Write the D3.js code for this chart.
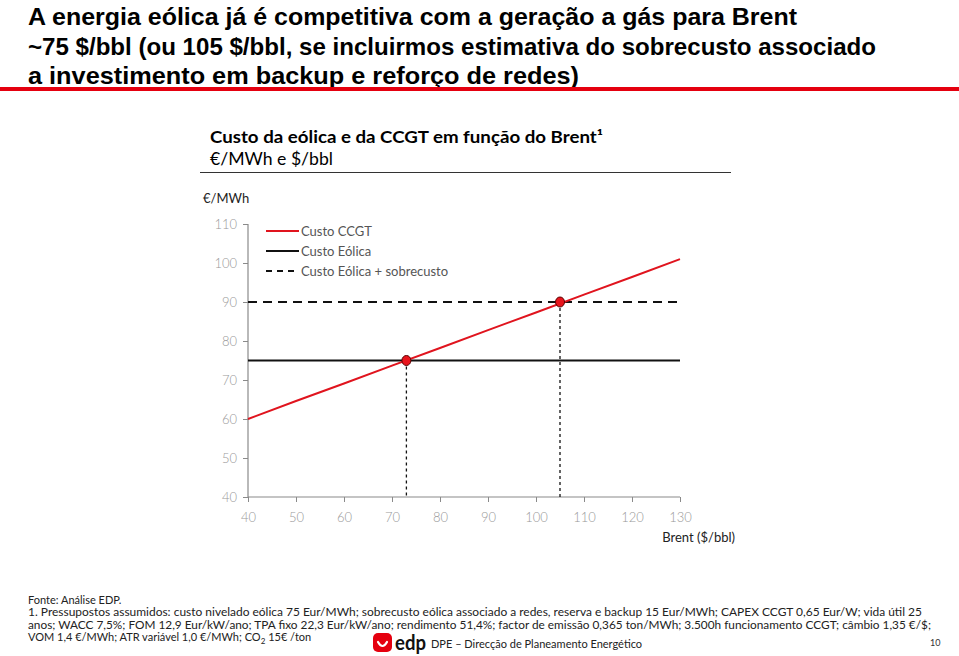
<!DOCTYPE html>
<html><head><meta charset="utf-8">
<script src="https://cdn.jsdelivr.net/npm/d3@7"></script>
<style>
body{margin:0;background:#fff;}
svg{display:block;font-family:"Liberation Sans",Arial,sans-serif;}
</style></head>
<body><svg id="c" width="959" height="656"></svg>
<script>
const brentTicks = [40,50,60,70,80,90,100,110,120,130];
const costTicks = [40,50,60,70,80,90,100,110];
const ccgtBrent = [40,50,60,70,80,90,100,110,120,130];
const ccgtCost  = [60,64.6,69.1,73.7,78.2,82.8,87.3,91.9,96.4,101];
const eolicaBrent = [40,130];
const eolicaCost = [75,75];
const sobreBrent = [40,130];
const sobreCost = [90,90];
const crossBrent = [73,105];
const crossCost = [75,90];
const legendLabels = ["Custo CCGT","Custo Eólica","Custo Eólica + sobrecusto"];
const titleLines = ["A energia eólica já é competitiva com a geração a gás para Brent",
 "~75 $/bbl (ou 105 $/bbl, se incluirmos estimativa do sobrecusto associado",
 "a investimento em backup e reforço de redes)"];
const noteLines = ["1. Pressupostos assumidos: custo nivelado eólica 75 Eur/MWh; sobrecusto eólica associado a redes, reserva e backup 15 Eur/MWh; CAPEX CCGT 0,65 Eur/W; vida útil 25",
 "anos; WACC 7,5%; FOM 12,9  Eur/kW/ano; TPA fixo 22,3 Eur/kW/ano; rendimento 51,4%; factor de emissão 0,365 ton/MWh; 3.500h funcionamento CCGT; câmbio 1,35 €/$;"];

const svg = d3.select("#c");
const x = d3.scaleLinear().domain([40,130]).range([248,680]);
const y = d3.scaleLinear().domain([40,110]).range([497,224]);
const gray = "#8a8a8a";
const axFont = "Lato, 'Noto Sans', sans-serif";

// Title
const titleW = [769, 848, 551];
titleLines.forEach((t,i)=>{
  svg.append("text").attr("x",28).attr("y",25+i*29.5).attr("font-size",24).attr("font-weight","bold")
    .attr("textLength",titleW[i]).attr("lengthAdjust","spacingAndGlyphs").text(t);
});
svg.append("rect").attr("x",0).attr("y",87).attr("width",959).attr("height",4).attr("fill","#e5000f");

// Subtitle
svg.append("text").attr("x",210).attr("y",143).attr("font-size",17).attr("font-weight","bold")
  .attr("font-family",axFont).attr("textLength",393).attr("lengthAdjust","spacingAndGlyphs")
  .text("Custo da eólica e da CCGT em função do Brent¹");
svg.append("text").attr("x",210).attr("y",165).attr("font-size",17).attr("font-family",axFont)
  .attr("textLength",123).attr("lengthAdjust","spacingAndGlyphs").text("€/MWh e $/bbl");
svg.append("line").attr("x1",200).attr("x2",731).attr("y1",172.5).attr("y2",172.5).attr("stroke","#333").attr("stroke-width",1);
svg.append("text").attr("x",203).attr("y",203).attr("font-size",13).attr("font-family",axFont).attr("fill","#222").text("€/MWh");

// Axes
const ya = svg.append("g").attr("transform","translate(248,0)")
  .call(d3.axisLeft(y).tickValues(costTicks).tickSize(5).tickPadding(6));
const xa = svg.append("g").attr("transform","translate(0,497)")
  .call(d3.axisBottom(x).tickValues(brentTicks).tickSize(5).tickPadding(11));
[ya,xa].forEach(g=>{
  g.select(".domain").attr("stroke",gray).attr("stroke-width",1.2);
  g.selectAll(".tick line").attr("stroke",gray);
  g.selectAll(".tick text").attr("fill","#999").attr("font-size",13).attr("font-family",axFont).attr("font-weight",300);
});
ya.select(".domain").attr("d","M-0,224V497");
xa.select(".domain").attr("d","M248,0H680");
svg.append("text").attr("x",735).attr("y",542).attr("text-anchor","end").attr("font-size",13)
  .attr("font-family",axFont).attr("fill","#222").text("Brent ($/bbl)");

const line = d3.line().x(d=>x(d[0])).y(d=>y(d[1]));
// Vertical drop lines
crossBrent.forEach((b,i)=>{
  svg.append("line").attr("x1",x(b)).attr("x2",x(b)).attr("y1",y(crossCost[i])).attr("y2",y(40))
    .attr("stroke","#111").attr("stroke-width",1.3).attr("stroke-dasharray","3,3");
});
svg.append("path").attr("d",line(sobreBrent.map((b,i)=>[b,sobreCost[i]]))).attr("fill","none")
  .attr("stroke","#111").attr("stroke-width",2).attr("stroke-dasharray","9,6");
svg.append("path").attr("d",line(eolicaBrent.map((b,i)=>[b,eolicaCost[i]]))).attr("fill","none")
  .attr("stroke","#111").attr("stroke-width",2);
svg.append("path").attr("d",line(ccgtBrent.map((b,i)=>[b,ccgtCost[i]]))).attr("fill","none")
  .attr("stroke","#e0141e").attr("stroke-width",2);
svg.selectAll(".dot").data(crossBrent).join("ellipse").attr("class","dot")
  .attr("cx",d=>x(d)).attr("cy",(d,i)=>y(crossCost[i])).attr("rx",4.5).attr("ry",5)
  .attr("fill","#e8141c").attr("stroke","#5a0000").attr("stroke-width",1);

// Legend
const leg = [{c:"#e0141e",d:null},{c:"#111",d:null},{c:"#111",d:"6,5"}];
legendLabels.forEach((t,i)=>{
  const ly = 231+i*20;
  svg.append("line").attr("x1",266).attr("x2",299).attr("y1",ly).attr("y2",ly)
    .attr("stroke",leg[i].c).attr("stroke-width",2).attr("stroke-dasharray",leg[i].d);
  svg.append("text").attr("x",301).attr("y",ly+4.5).attr("font-size",13).attr("font-family",axFont)
    .attr("fill","#555").text(t);
});

// Footnotes
const fn = svg.append("g").attr("font-family",axFont).attr("font-size",11).attr("fill","#222");
fn.append("text").attr("x",28).attr("y",604).text("Fonte: Análise EDP.");
noteLines.forEach((t,i)=>{
  fn.append("text").attr("x",28).attr("y",616+i*12.5).attr("textLength",i?903:894)
    .attr("lengthAdjust","spacingAndGlyphs").text(t);
});
const last = fn.append("text").attr("x",28).attr("y",641);
last.append("tspan").text("VOM 1,4 €/MWh; ATR variável 1,0 €/MWh; CO");
last.append("tspan").attr("font-size",8).attr("dy",3).text("2");
last.append("tspan").attr("dy",-3).text(" 15€ /ton");

// Logo
svg.append("rect").attr("x",373).attr("y",633).attr("width",19).attr("height",19).attr("rx",5).attr("fill","#e5000f");
svg.append("path").attr("d","M378,642 Q382.5,650 387,642").attr("fill","none").attr("stroke","#fff").attr("stroke-width",2.2).attr("stroke-linecap","round");
svg.append("text").attr("x",395).attr("y",650).attr("font-size",21).attr("font-weight","bold").attr("font-family",axFont)
  .attr("fill","#111").attr("textLength",31).attr("lengthAdjust","spacingAndGlyphs").text("edp");
svg.append("text").attr("x",431).attr("y",648).attr("font-size",11).attr("font-family",axFont).attr("fill","#222").text("DPE – Direcção de Planeamento Energético");
svg.append("text").attr("x",930).attr("y",646).attr("font-size",9).attr("font-family",axFont).attr("fill","#333").text("10");
</script></body></html>
